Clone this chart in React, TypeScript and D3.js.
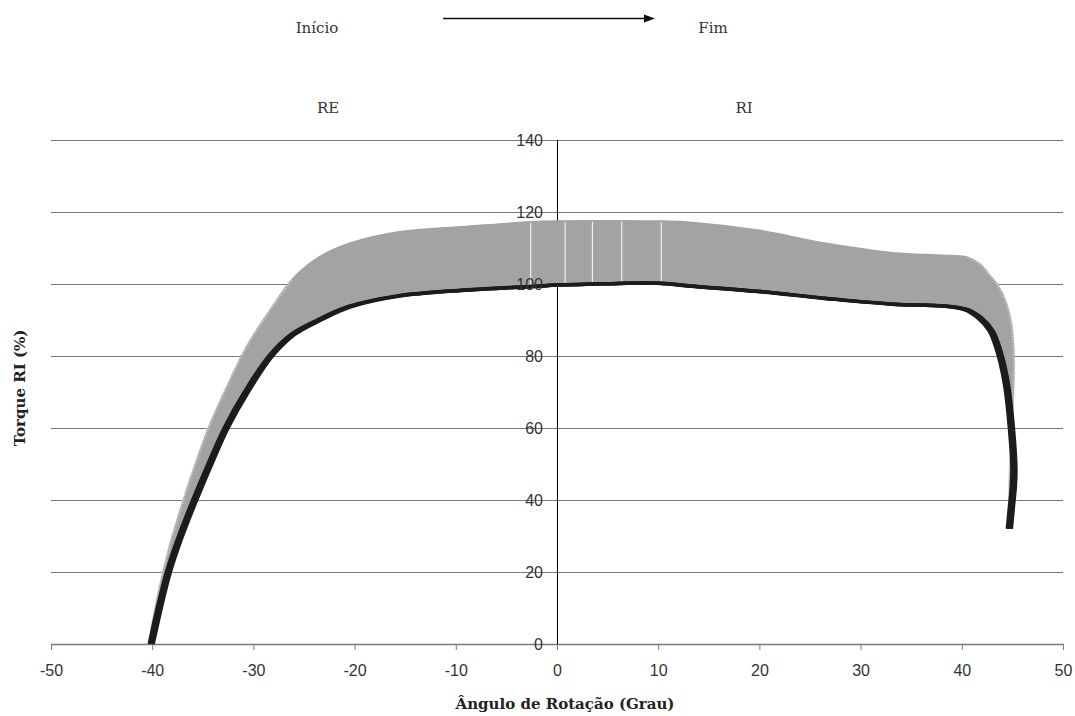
import React, { useEffect, useRef } from "react";
import * as d3 from "d3";

// ângulo de rotação (graus) ao longo do movimento, do início (RE) ao fim (RI)
const angle = [
  -40.1, -39.3, -38.4, -37.2, -35.8, -34.3, -32.7, -30.7, -28.3, -26.1, -23.5,
  -20.5, -15.6, -9.0, -2.4, 0.0, 5.0, 10.0, 13.4, 20.0, 26.6, 33.2, 38.2, 40.5,
  41.8, 42.9, 43.6, 44.4, 44.9, 45.15, 45.1, 44.9, 44.7,
];
// torque médio (%)
const mean = [
  0, 10, 20, 30, 40, 50, 60, 70, 80, 86, 90, 93.7, 96.7, 98.3, 99.3, 99.7, 100.1,
  100.2, 99.4, 97.9, 96.0, 94.4, 93.9, 92.8, 90.5, 87, 82, 72.4, 60, 49, 44, 38,
  32,
];
// torque médio + desvio padrão (%)
const upper = [
  4, 15.5, 26, 37.5, 49.5, 61, 71, 82.5, 93, 101.5, 107.5, 111.3, 114.5, 116,
  117.3, 117.5, 117.6, 117.5, 117.1, 114.9, 111.3, 108.7, 108, 107.5, 105.5, 102,
  99.5, 94.7, 89, 80, 70, 58, 45,
];
// falhas brancas entre as barras de erro
const gapAngles = [-2.6, 0.8, 3.5, 6.4, 10.3];

const xTicks = [-50, -40, -30, -20, -10, 0, 10, 20, 30, 40, 50];
const yTicks = [0, 20, 40, 60, 80, 100, 120, 140];

const width = 1075;
const height = 716;
const plot = { left: 51, right: 1063, top: 140, bottom: 644 };

function App() {
  const svgRef = useRef<SVGSVGElement>(null);

  useEffect(() => {
    const svg = d3.select(svgRef.current);
    svg.selectAll("*").remove();

    const x = d3.scaleLinear().domain([-50, 50]).range([plot.left, plot.right]);
    const y = d3.scaleLinear().domain([0, 140]).range([plot.bottom, plot.top]);
    const idx = d3.range(angle.length);

    // linhas de grade
    svg
      .append("g")
      .selectAll("line")
      .data(yTicks.filter((d) => d > 0))
      .join("line")
      .attr("x1", x(-50))
      .attr("x2", x(50))
      .attr("y1", (d) => Math.round(y(d)) + 0.5)
      .attr("y2", (d) => Math.round(y(d)) + 0.5)
      .attr("stroke", "#7a7a7a")
      .attr("stroke-width", 1);

    // eixo x
    const gx = svg
      .append("g")
      .attr("transform", `translate(0, ${y(0)})`)
      .call(
        d3
          .axisBottom(x)
          .tickValues(xTicks)
          .tickSize(6)
          .tickSizeOuter(0)
          .tickPadding(15)
          .tickFormat((d) => String(d))
      );
    gx.select(".domain").attr("stroke", "#7a7a7a").attr("stroke-width", 1.5);
    gx.selectAll(".tick line").attr("stroke", "#7a7a7a");
    gx.selectAll("text")
      .attr("font-family", "Liberation Sans, Arial, sans-serif")
      .attr("font-size", 16)
      .attr("fill", "#333");

    // eixo y (linha vertical em x = 0)
    svg
      .append("line")
      .attr("x1", x(0) + 0.5)
      .attr("x2", x(0) + 0.5)
      .attr("y1", y(0))
      .attr("y2", y(140))
      .attr("stroke", "#000");

    const curve = d3.curveCatmullRom.alpha(0.5);

    // faixa média + DP
    const area = d3
      .area<number>()
      .x((i) => x(angle[i]))
      .y0((i) => y(mean[i]))
      .y1((i) => y(upper[i]))
      .curve(curve);
    svg
      .append("path")
      .attr("d", area(idx))
      .attr("fill", "#a3a3a3")
      .attr("stroke", "#a3a3a3")
      .attr("stroke-width", 1.5);

    // borda serrilhada das barras de erro nos trechos íngremes
    const upperLine = d3
      .line<number>()
      .x((i) => x(angle[i]))
      .y((i) => y(upper[i]))
      .curve(curve);
    svg
      .append("g")
      .selectAll("path")
      .data([idx.slice(0, 10), idx.slice(23)])
      .join("path")
      .attr("d", (d) => upperLine(d))
      .attr("fill", "none")
      .attr("stroke", "#cfcfcf")
      .attr("stroke-width", 2.5)
      .attr("stroke-dasharray", "1 1.6");

    // falhas brancas
    const mono = angle.slice(0, 30);
    const interp = (arr: number[], a: number) => {
      const i = Math.max(1, d3.bisectRight(mono, a));
      const t = (a - angle[i - 1]) / (angle[i] - angle[i - 1]);
      return arr[i - 1] + t * (arr[i] - arr[i - 1]);
    };
    svg
      .append("g")
      .selectAll("line")
      .data(gapAngles)
      .join("line")
      .attr("x1", (d) => x(d))
      .attr("x2", (d) => x(d))
      .attr("y1", (d) => y(interp(mean, d)) - 2)
      .attr("y2", (d) => y(interp(upper, d)) + 1)
      .attr("stroke", "#fff")
      .attr("stroke-opacity", 0.85)
      .attr("stroke-width", 1.2);

    // curva média
    const line = d3
      .line<number>()
      .x((i) => x(angle[i]))
      .y((i) => y(mean[i]))
      .curve(curve);
    svg
      .append("g")
      .selectAll("path")
      .data([-2, 0, 2])
      .join("path")
      .attr("transform", (d) => `translate(${d}, 0)`)
      .attr("d", line(idx))
      .attr("fill", "none")
      .attr("stroke", "#1c1c1c")
      .attr("stroke-width", 3.5);

    // rótulos do eixo y
    const gy = svg
      .append("g")
      .attr("transform", `translate(${x(0)}, 0)`)
      .call(d3.axisLeft(y).tickValues(yTicks).tickSize(0).tickPadding(14));
    gy.select(".domain").remove();
    gy.selectAll("text")
      .attr("font-family", "Liberation Sans, Arial, sans-serif")
      .attr("font-size", 16)
      .attr("fill", "#333");

    // títulos dos eixos
    svg
      .append("text")
      .attr("x", 565)
      .attr("y", 709)
      .attr("text-anchor", "middle")
      .attr("font-family", "DejaVu Serif, serif")
      .attr("font-weight", "bold")
      .attr("font-size", 15)
      .attr("fill", "#222")
      .text("Ângulo de Rotação (Grau)");

    svg
      .append("text")
      .attr("transform", "translate(25, 388) rotate(-90)")
      .attr("text-anchor", "middle")
      .attr("font-family", "DejaVu Serif, serif")
      .attr("font-weight", "bold")
      .attr("font-size", 15)
      .attr("fill", "#222")
      .text("Torque RI (%)");

    // anotações no topo
    const notes = [
      { label: "Início", cx: 317, cy: 33 },
      { label: "Fim", cx: 713, cy: 33 },
      { label: "RE", cx: 328, cy: 113 },
      { label: "RI", cx: 744, cy: 113 },
    ];
    svg
      .append("g")
      .selectAll("text")
      .data(notes)
      .join("text")
      .attr("x", (d) => d.cx)
      .attr("y", (d) => d.cy)
      .attr("text-anchor", "middle")
      .attr("font-family", "DejaVu Serif, serif")
      .attr("font-size", 15)
      .attr("fill", "#333")
      .text((d) => d.label);

    // seta
    svg
      .append("line")
      .attr("x1", 443)
      .attr("x2", 646)
      .attr("y1", 18.5)
      .attr("y2", 18.5)
      .attr("stroke", "#111")
      .attr("stroke-width", 1.5);
    svg
      .append("path")
      .attr("d", "M644,14.5 L655,18.5 L644,22.5 Z")
      .attr("fill", "#111");
  }, []);

  return (
    <svg
      ref={svgRef}
      width={width}
      height={height}
      style={{ position: "absolute", left: 0, top: 0, background: "#fff" }}
    />
  );
}

export default App;
